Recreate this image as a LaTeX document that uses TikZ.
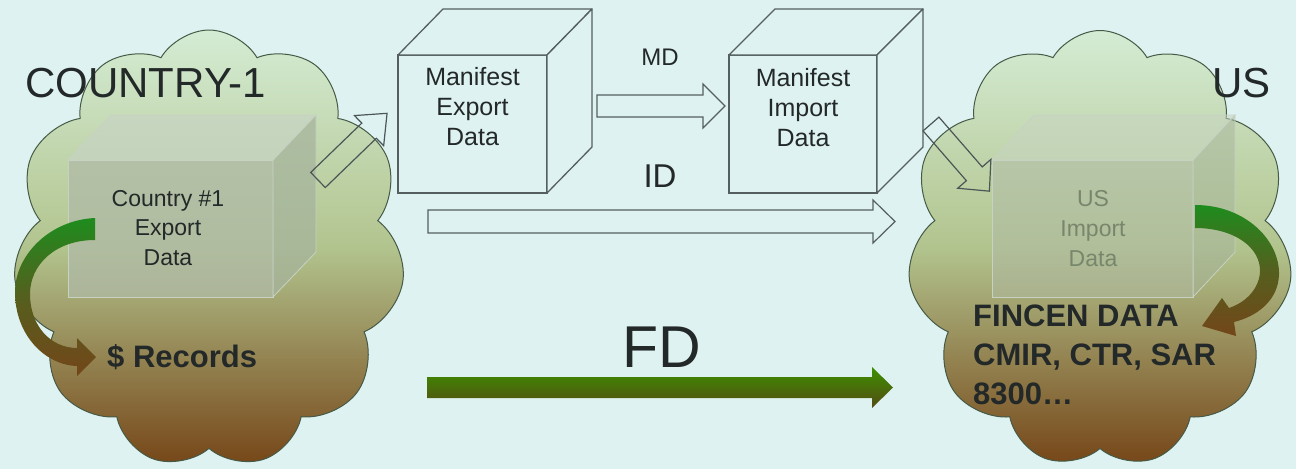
\documentclass[tikz,border=0pt]{standalone}
\usepackage{fontspec}
\setmainfont{Liberation Sans}
\usetikzlibrary{shapes.symbols}
\definecolor{bg}{RGB}{222,243,241}
\definecolor{cloudtop}{RGB}{212,236,212}
\definecolor{cloudmid}{RGB}{178,196,142}
\definecolor{cloudbot}{RGB}{118,70,24}
\definecolor{cloudline}{RGB}{70,90,70}
\definecolor{boxline}{RGB}{85,95,95}
\definecolor{txt}{RGB}{35,40,40}
\definecolor{boxfront}{RGB}{176,186,166}
\definecolor{boxtop}{RGB}{198,212,194}
\definecolor{boxside}{RGB}{166,180,156}
\definecolor{boxedge}{RGB}{200,210,195}
\definecolor{fdtop}{RGB}{60,145,0}
\definecolor{fdbot}{RGB}{85,75,20}
\definecolor{cgreen}{RGB}{30,140,30}
\definecolor{colive}{RGB}{85,95,30}
\definecolor{cbrown}{RGB}{115,70,25}
\definecolor{fadetxt}{RGB}{120,135,108}
\newcommand{\blockarrow}[7]{%
  \begin{scope}[shift={(#2)},rotate=#3]
    \path[#1] (0,{-#5/2}) -- ({#4-#7},{-#5/2}) -- ({#4-#7},{-#6/2}) -- (#4,0)
      -- ({#4-#7},{#6/2}) -- ({#4-#7},{#5/2}) -- (0,{#5/2}) -- cycle;
  \end{scope}}
\tikzset{
  cloudnode/.style={cloud, cloud puffs=11, cloud puff arc=120, cloud ignores aspect,
    draw=cloudline, line width=1pt, top color=cloudtop, bottom color=cloudbot,
    middle color=cloudmid, inner sep=0pt},
  mbox/.style={draw=boxline, line width=1.3pt, fill=bg, outer sep=0pt, inner sep=0pt},
  mface/.style={draw=boxline, line width=1.3pt, fill=bg, line join=round},
  gfront/.style={draw=boxedge, line width=0.8pt, fill=boxfront, fill opacity=#1, outer sep=0pt, inner sep=0pt},
  gtop/.style={draw=boxedge, line width=0.8pt, fill=boxtop, fill opacity=#1},
  gside/.style={draw=boxedge, line width=0.8pt, fill=boxside, fill opacity=#1},
  openarrow/.style={draw=boxline, line width=1.2pt, fill=bg, line join=miter},
  diagarrow/.style={draw=boxline!90!black, line width=1.2pt, line join=miter},
  fdarrow/.style={top color=fdtop, bottom color=fdbot, draw=none},
  curvearrow/.style={top color=cgreen, bottom color=cbrown, middle color=colive, draw=none},
  lbl/.style={inner sep=0pt, text=txt},
}
\begin{document}
\begin{tikzpicture}[x=1pt,y=-1pt]
\useasboundingbox (0,0) rectangle (1296,469);
\fill[bg] (0,0) rectangle (1296,469);

% clouds
\node[cloudnode, minimum width=392pt, minimum height=438pt] (c1) at (209,249) {};
\node[cloudnode, minimum width=385pt, minimum height=437pt] (c2) at (1100,249) {};

% country box
\node[gfront=0.75, minimum width=205pt, minimum height=137pt] (cb) at (170.5,228.5) {};
\path[gtop=0.75] (cb.north west) -- ++(43,-45) -- ++(205,0) -- (cb.north east) -- cycle;
\path[gside=0.75] (cb.north east) -- ++(43,-45) -- ++(0,137) -- (cb.south east) -- cycle;

% US box
\node[gfront=0.5, minimum width=201pt, minimum height=137pt] (ub) at (1092.5,228.5) {};
\path[gtop=0.5] (ub.north west) -- ++(42,-45) -- ++(201,0) -- (ub.north east) -- cycle;
\path[gside=0.5] (ub.north east) -- ++(42,-45) -- ++(0,137) -- (ub.south east) -- cycle;

% manifest boxes
\node[mbox, minimum width=149pt, minimum height=138pt] (me) at (472.5,124) {};
\path[mface] (me.north west) -- ++(45,-46) -- ++(149,0) -- (me.north east) -- cycle;
\path[mface] (me.north east) -- ++(45,-46) -- ++(0,138) -- (me.south east) -- cycle;
\node[mbox, minimum width=148pt, minimum height=138pt] (mi) at (803,124) {};
\path[mface] (mi.north west) -- ++(46,-46) -- ++(148,0) -- (mi.north east) -- cycle;
\path[mface] (mi.north east) -- ++(46,-46) -- ++(0,138) -- (mi.south east) -- cycle;

% arrows
\coordinate (mdtail) at (597,106);
\coordinate (idtail) at (428,221.5);
\coordinate (fdtail) at (427,387.5);
\coordinate (ltail) at (318,180);
\coordinate (rtail) at (931,124);
\blockarrow{openarrow}{mdtail}{0}{128}{22}{44}{22}
\blockarrow{openarrow}{idtail}{0}{467}{23}{43}{22}
\blockarrow{fdarrow}{fdtail}{0}{466}{21}{41}{21}
\blockarrow{diagarrow}{ltail}{44}{96}{21}{42}{25}
\blockarrow{diagarrow}{rtail}{-49}{89}{21}{44}{23}

% curved arrows
\shade[curvearrow] (95,218) .. controls (50,220) and (15,255) .. (15,292)
  .. controls (15,335) and (45,365) .. (77,366) -- (77,376) -- (96,357) -- (77,338) -- (77,348)
  .. controls (50,348) and (30,325) .. (30,294) .. controls (30,265) and (55,240) .. (95,240) -- cycle;
\shade[curvearrow] (1195,205) .. controls (1245,205) and (1280,240) .. (1279,275)
  .. controls (1278,300) and (1258,316) .. (1234,322) -- (1236,336) -- (1202,326) -- (1222,298) -- (1229,308)
  .. controls (1247,302) and (1259,288) .. (1260,272) .. controls (1261,248) and (1235,228) .. (1195,228) -- cycle;

% texts
\node[lbl, font=\fontsize{42}{50}\selectfont, anchor=base west] (t1) at (25,97) {COUNTRY-1};
\node[lbl, font=\fontsize{42}{50}\selectfont, anchor=base west] (t2) at (1212,97) {US};
\node[lbl, font=\fontsize{24}{28}\selectfont, anchor=base] (md) at (660,65) {MD};
\node[lbl, font=\fontsize{33}{40}\selectfont, anchor=base] (id) at (660,187) {ID};
\node[lbl, font=\fontsize{59}{70}\selectfont, anchor=base] (fd) at (662,367) {FD};
\node[lbl, font=\fontsize{31}{39}\selectfont\bfseries, anchor=base west] (rec) at (107,367) {\$ Records};
\node[lbl, font=\fontsize{31}{39}\selectfont\bfseries, align=left, anchor=west] (fin) at (973,354.8) {FINCEN DATA\\CMIR, CTR, SAR\\8300…};
\node[lbl, font=\fontsize{23}{29.5}\selectfont, align=center] (cbt) at (168,228) {Country \#1\\Export\\Data};
\node[lbl, text=fadetxt, font=\fontsize{23}{30}\selectfont, align=center] (ubt) at (1093,228.5) {US\\Import\\Data};
\node[lbl, font=\fontsize{25}{30}\selectfont, align=center] (met) at (472.5,107) {Manifest\\Export\\Data};
\node[lbl, font=\fontsize{25}{30}\selectfont, align=center] (mit) at (803,108) {Manifest\\Import\\Data};
\end{tikzpicture}
\end{document}
